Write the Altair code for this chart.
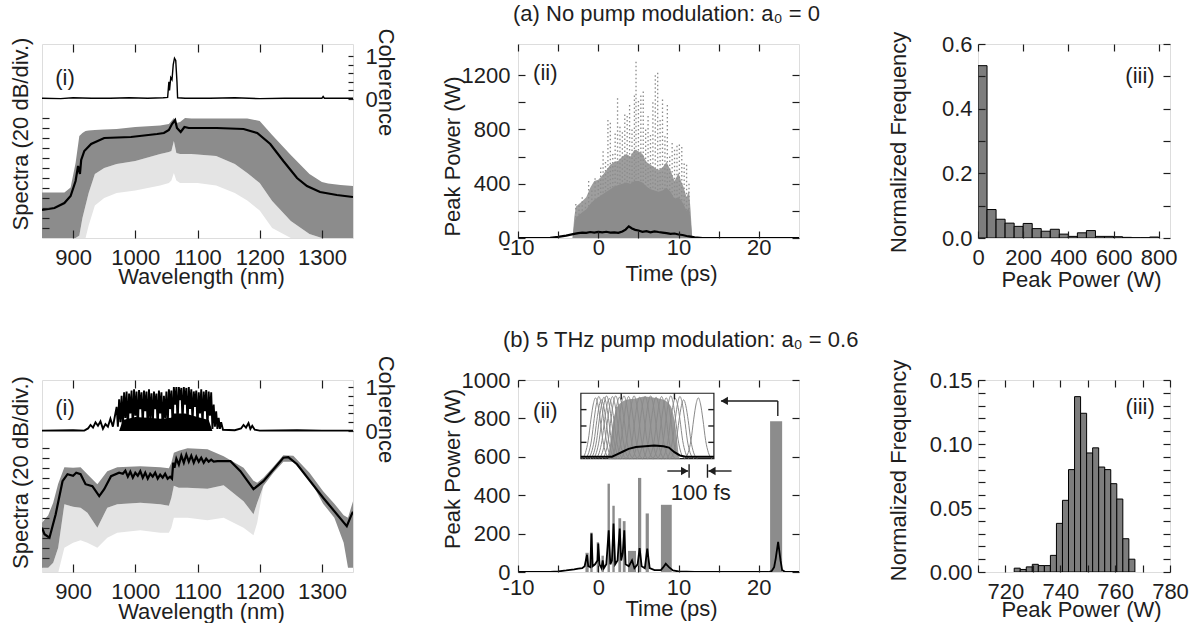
import altair as alt
import pandas as pd

FONT = "Liberation Sans"
FS = 22
INK = "#1e1e1e"
GRAY = "#8c8c8c"
LIGHT = "#e4e4e4"
HAZE = "#9e9e9e"

# ---------------- layout (px) ----------------
W1, W2, W3 = 311, 281, 192
GAP12, GAP23 = 165, 179
HA, HB = 194, 192
ROW_GAP = 142

# ---------------- (a)(i) spectra / coherence ----------------
WL_A_MEAN = [850, 870, 886, 896, 904, 908, 911, 913, 918, 929, 950, 993, 1035, 1046, 1054, 1059, 1064, 1067,
             1073, 1079, 1086, 1131, 1174, 1196, 1217, 1238, 1260, 1276, 1297, 1324, 1350]
DB_A_MEAN = [-184, -180, -170, -156, -126, -96, -112, -84, -66, -52, -40, -38, -32, -30, -24, -12, -4, -20,
             -28, -18, -20, -20, -22, -30, -52, -86, -120, -136, -148, -154, -158]
WL_A_BAND = [850, 886, 896, 904, 910, 915, 920, 925, 935, 950, 970, 1000, 1040, 1054, 1058, 1062, 1066, 1072,
             1080, 1090, 1100, 1130, 1160, 1180, 1200, 1220, 1250, 1280, 1300, 1310, 1330, 1350]
DB_A_HI = [-149, -149, -139, -90, -36, -30, -26, -25, -24, -23, -22, -18, -15, -12, -6, 0, -10, -8,
           0, -1, -1, -1, -1, -1, -6, -34, -74, -112, -128, -131, -134, -136]
DB_A_LO = [-240, -240, -240, -240, -235, -200, -175, -150, -112, -100, -92, -86, -72, -68, -66, -46, -70, -72,
           -72, -72, -73, -76, -92, -110, -130, -166, -206, -232, -240, -240, -240, -240]
DB_A_SPECK = [-240, -240, -240, -240, -240, -240, -240, -215, -175, -160, -150, -145, -135, -130, -125, -110, -125, -130,
              -130, -130, -130, -135, -150, -165, -185, -220, -240, -240, -240, -240, -240, -240]
WL_COH_A = [850, 880, 900, 930, 960, 990, 1020, 1045, 1052, 1054, 1055, 1057, 1059, 1061, 1063, 1065, 1067, 1068,
            1080, 1120, 1160, 1200, 1240, 1280, 1300, 1302, 1304, 1320, 1350]
COH_A = [0.02, 0.01, 0.03, 0.02, 0.02, 0.03, 0.02, 0.03, 0.04, 0.4, 0.2, 0.5, 0.45, 0.8, 0.95, 0.9, 0.4, 0.03,
         0.02, 0.02, 0.03, 0.01, 0.02, 0.02, 0.02, 0.06, 0.02, 0.02, 0.02]

# ---------------- (b)(i) spectra / coherence ----------------
WL_B_MEAN = [850, 854, 862, 872, 883, 891, 900, 905, 912, 920, 931, 942, 950, 961, 974,
             980, 984, 988, 992, 996, 1000, 1004, 1008, 1012, 1016, 1020, 1024, 1028, 1032, 1036, 1040, 1044,
             1048, 1052, 1056, 1059, 1061, 1063, 1066, 1070, 1074, 1078, 1082, 1086, 1090, 1094, 1098, 1102,
             1106, 1110, 1114, 1118, 1122, 1126, 1132, 1153, 1169, 1190, 1206, 1238, 1246, 1260, 1302, 1340,
             1348, 1350]
DB_B_MEAN = [-160, -173, -180, -133, -67, -53, -56, -50, -53, -73, -77, -97, -83, -57, -50,
             -52, -46, -58, -48, -60, -50, -56, -47, -60, -50, -62, -52, -58, -50, -62, -54, -60,
             -52, -62, -58, -62, -30, -40, -22, -34, -16, -30, -14, -28, -16, -30, -18, -28,
             -20, -30, -22, -28, -24, -28, -27, -27, -47, -83, -67, -20, -19, -33, -100, -157,
             -133, -128]
WL_B_BAND = [850, 860, 868, 876, 886, 900, 912, 923, 939, 955, 971, 1008, 1040, 1054, 1058, 1062, 1070,
             1084, 1116, 1142, 1174, 1190, 1196, 1206, 1222, 1238, 1254, 1280, 1302, 1320, 1335, 1342, 1350]
DB_B_HI = [-150, -135, -110, -72, -39, -40, -39, -53, -73, -47, -39, -37, -39, -41, -30, -10, -6,
           -1, -3, -17, -40, -66, -70, -60, -38, -15, -16, -50, -87, -112, -135, -140, -107]
DB_B_LO = [-240, -240, -230, -200, -113, -118, -120, -130, -160, -120, -113, -110, -113, -116, -100, -76, -80,
           -80, -82, -75, -107, -133, -110, -76, -50, -28, -28, -62, -112, -140, -190, -240, -240]
DB_B_SPECK = [-250, -250, -250, -250, -200, -190, -185, -190, -200, -180, -170, -165, -170, -170, -160, -140, -140,
              -140, -145, -140, -160, -175, -150, -76, -50, -28, -28, -62, -112, -140, -190, -240, -240]
WL_COH_B = [850, 900, 918, 924, 928, 932, 936, 940, 944, 948, 952, 956, 960, 964, 968,
            970, 972, 974, 976, 978, 980, 982, 984, 986, 988, 990, 992, 994, 996, 998, 1000,
            1002, 1004, 1006, 1008, 1010, 1012, 1014, 1016, 1018, 1020, 1022, 1024, 1026, 1028, 1030, 1032,
            1034, 1036, 1038, 1040, 1042, 1044, 1046, 1048, 1050, 1052, 1054, 1056, 1058, 1060, 1062, 1064,
            1066, 1068, 1070, 1072, 1074, 1076, 1078, 1080, 1082, 1084, 1086, 1088, 1090, 1092, 1094, 1096,
            1098, 1100, 1102, 1104, 1106, 1108, 1110, 1112, 1114, 1116, 1118, 1120, 1122, 1124, 1126, 1128,
            1130, 1132, 1134, 1136, 1138, 1141, 1160, 1170, 1174, 1178, 1182, 1185, 1188, 1192, 1200, 1260,
            1300, 1350]
COH_B = [0.01, 0.02, 0.01, 0.06, 0.14, 0.08, 0.2, 0.12, 0.22, 0.05, 0.16, 0.1, 0.28, 0.1, 0.4,
         0.55, 0.10, 0.72, 0.20, 0.80, 0.05, 0.88, 0.30, 0.90, 0.00, 0.85, 0.40, 0.92, 0.05, 0.95, 0.35,
         0.90, 0.00, 0.93, 0.50, 0.88, 0.10, 0.92, 0.45, 0.90, 0.02, 0.95, 0.30, 0.86, 0.10, 0.90, 0.50,
         0.85, 0.05, 0.92, 0.40, 0.88, 0.02, 0.80, 0.30, 0.90, 0.10, 0.95, 0.50, 0.92, 0.10, 1.00, 0.60,
         1.00, 0.15, 1.00, 0.70, 0.98, 0.20, 1.00, 0.60, 0.98, 0.10, 1.00, 0.50, 0.95, 0.20, 0.90, 0.55,
         0.92, 0.05, 0.88, 0.40, 0.95, 0.10, 0.90, 0.45, 0.93, 0.02, 0.90, 0.35, 0.88, 0.05, 0.60, 0.10,
         0.45, 0.05, 0.30, 0.05, 0.20, 0.03, 0.02, 0.06, 0.14, 0.08, 0.18, 0.05, 0.12, 0.03, 0.01, 0.02,
         0.01, 0.01]
# solid black body of the oscillating coherence (lower part of the black mass)
WL_COH_B_FILL = [974, 980, 1000, 1020, 1040, 1058, 1062, 1080, 1100, 1118, 1124]
COH_B_FILL = [0.0, 0.25, 0.32, 0.3, 0.28, 0.3, 0.4, 0.4, 0.32, 0.25, 0.0]
SPEC_TICKS = [-220, -200, -180, -160, -140, -120, -100, -80, -60, -40, -20, 0]

# ---------------- (a)(ii) temporal peak power ----------------
T_A_DENSE = [-10, -3.2, -3.0, -2.8, -2.4, -2.0, -1.5, -1.0, -0.5, 0, 0.5, 1, 1.5, 2, 2.5, 3, 3.5, 4, 4.5, 5,
             5.5, 6, 6.5, 7, 7.5, 8, 8.5, 9, 9.5, 10, 10.3, 10.6, 11, 11.3, 11.5, 11.7, 25]
P_A_HAZE = [0, 0, 150, 230, 250, 270, 300, 370, 420, 430, 460, 500, 540, 560, 570, 600, 620, 600, 650, 640,
            620, 560, 540, 520, 500, 520, 560, 500, 420, 480, 420, 380, 300, 350, 200, 0, 0]
P_A_CORE = [0, 0, 100, 150, 170, 190, 210, 250, 280, 300, 320, 340, 360, 380, 390, 400, 410, 400, 420, 420,
            410, 380, 360, 350, 340, 350, 370, 340, 290, 300, 280, 250, 200, 220, 130, 0, 0]
T_A_STREAK = [-2.8, -2.4, -2.0, -1.6, -1.2, -0.8, -0.4, 0.0, 0.3, 0.6, 0.9, 1.2, 1.5, 1.8, 2.1, 2.4, 2.7, 3.0,
              3.3, 3.6, 3.9, 4.2, 4.5, 4.7, 5.0, 5.3, 5.6, 5.9, 6.2, 6.5, 6.8, 7.1, 7.4, 7.7, 8.0, 8.3, 8.6,
              8.9, 9.2, 9.5, 9.8, 10.1, 10.4, 10.7, 11.0, 11.3]
P_A_STREAK = [250, 240, 300, 260, 420, 350, 440, 420, 520, 640, 560, 870, 850, 620, 770, 1030, 820, 780,
              910, 900, 980, 800, 1050, 1300, 1010, 1050, 1080, 800, 900, 760, 1000, 1200, 1218, 870, 1020, 750, 980,
              600, 700, 650, 680, 690, 670, 550, 540, 400]
T_A_MEAN = [-10, -7, -6, -5, -4, -3, -2.5, -2, -1.5, -1, -0.5, 0, 0.5, 1, 1.5, 2, 2.5, 3, 3.4, 3.8,
            4.2, 4.6, 5, 5.5, 6, 6.5, 7, 7.5, 8, 8.5, 9, 9.5, 10, 10.5, 11, 11.5, 12, 13, 25]
P_A_MEAN = [0, 0, 2, 8, 18, 30, 36, 40, 38, 44, 40, 45, 41, 46, 40, 42, 38, 48, 62, 86,
            70, 60, 55, 45, 50, 42, 49, 44, 40, 36, 30, 33, 26, 22, 15, 10, 5, 0, 0]

# ---------------- (b)(ii) temporal peak power ----------------
GB_T0 = [-1.6, -1.0, -0.2, 0.4, 1.15, 1.75, 2.5, 3.05, 3.7, 4.95, 5.9, 7.8, 21.4]
GB_T1 = [-1.2, -0.7, 0.1, 0.7, 1.45, 2.05, 2.85, 3.4, 4.7, 5.35, 6.3, 9.15, 22.9]
GB_TOP = [100, 205, 155, 85, 460, 345, 280, 265, 110, 490, 305, 350, 785]
T_B_MEAN = [-10, -6, -5, -4, -3, -2.5, -2, -1.7, -1.55, -1.4, -1.25, -1.0, -0.85, -0.7, -0.4, -0.1, 0.0, 0.15,
            0.4, 0.55, 0.7, 1.0, 1.3, 1.5, 1.7, 1.9, 2.1, 2.4, 2.67, 2.85, 3.05, 3.24, 3.4, 3.8, 4.2, 4.5, 4.9,
            5.15, 5.4, 5.8, 6.1, 6.4, 7.0, 7.8, 8.1, 8.4, 8.8, 9.3, 10, 12, 20, 21.2, 21.6, 21.9, 22.1, 22.4,
            22.7, 22.9, 23.3, 25]
P_B_MEAN = [0, 0, 3, 8, 14, 18, 20, 30, 60, 90, 30, 25, 200, 30, 40, 60, 148, 40,
            20, 61, 20, 40, 217, 40, 60, 252, 40, 60, 226, 60, 100, 217, 40, 30, 61, 20, 40,
            125, 30, 20, 122, 20, 10, 10, 25, 43, 25, 8, 3, 1, 0, 0, 5, 25, 70, 157,
            60, 10, 0, 0]

# inset (fs / normalised height) and its placement in (b)(ii) data units
INSET_T = [-2.17, 14.4]
INSET_P = [590, 931]
INSET_FS_SPAN = 725
PULSE_DT_FS = [-75, -55, -40, -25, -12, 0, 12, 25, 40, 55, 75]
PULSE_REL = [0.0, 0.1, 0.3, 0.65, 0.9, 1.0, 0.9, 0.65, 0.3, 0.1, 0.0]
INSET_CENTERS_FS = [80, 98, 112, 126, 140, 155, 172, 190, 210, 235, 260, 290, 320, 350, 380, 410, 440, 465,
                    490, 515, 540, 560, 640]
INSET_PEAKS = [0.93, 0.95, 0.9, 0.94, 0.96, 0.92, 0.95, 0.96, 0.94, 0.96, 0.95, 0.96, 0.94, 0.95, 0.96, 0.94,
               0.95, 0.93, 0.96, 0.92, 0.95, 0.9, 0.93]
FS_DENSE = [150, 175, 200, 250, 300, 350, 400, 450, 490, 515, 535]
H_DENSE = [0, 0.55, 0.8, 0.9, 0.92, 0.95, 0.93, 0.9, 0.8, 0.5, 0]
FS_INSET_MEAN = [0, 170, 200, 230, 260, 300, 350, 400, 450, 480, 510, 540, 570, 610, 725]
H_INSET_MEAN = [0.03, 0.03, 0.07, 0.11, 0.15, 0.18, 0.19, 0.2, 0.19, 0.17, 0.1, 0.05, 0.03, 0.03, 0.03]
INSET_TICK_H = [0.25, 0.5, 0.75]
INSET_TOP_TICK_FS = [220, 510]

# ---------------- (iii) histograms ----------------
BIN_A_LO = [0, 40, 80, 120, 160, 200, 240, 280, 320, 360, 400, 440, 480, 520, 560, 600, 640, 680, 720, 760]
BIN_A_W = 40
FREQ_A = [0.533, 0.088, 0.058, 0.046, 0.036, 0.045, 0.029, 0.021, 0.027, 0.012, 0.005, 0.016, 0.023,
          0.005, 0.005, 0.004, 0.002, 0.001, 0.001, 0.003]
BIN_B_LO = [723.2, 725.4, 727.6, 729.8, 732.0, 734.2, 736.4, 738.6, 740.8, 743.0, 745.2, 747.4, 749.6,
            751.8, 754.0, 756.2, 758.4, 760.6, 762.8, 765.0]
BIN_B_W = 2.2
FREQ_B = [0.003, 0.002, 0.004, 0.006, 0.005, 0.005, 0.013, 0.038, 0.056, 0.080, 0.137, 0.124, 0.093,
          0.097, 0.082, 0.080, 0.069, 0.057, 0.026, 0.010]


# ---------------- helpers ----------------
def ax(orient, values, tick, **kw):
    d = dict(orient=orient, values=values, tickSize=tick, offset=-tick, domain=False, grid=False,
             ticks=True, tickColor=INK, tickWidth=1.2, labels=False,
             labelFont=FONT, labelFontSize=FS, labelColor=INK, labelFlush=False, labelOverlap=False,
             titleFont=FONT, titleFontSize=FS, titleColor=INK, titleFontWeight="normal", zindex=1)
    d.update(kw)
    if "title" not in d:
        d["title"] = None
    return alt.Axis(**d)


def sc(dom):
    return alt.Scale(domain=dom, nice=False, zero=False)


def text_layer(x, y, xs, ys, txt):
    df = pd.DataFrame({"x": [x], "y": [y], "t": [txt]})
    return alt.Chart(df).mark_text(font=FONT, fontSize=FS, color=INK).encode(
        x=alt.X("x:Q", scale=xs, axis=None), y=alt.Y("y:Q", scale=ys, axis=None), text="t:N")


def spectra_panel(H, ydom, cdom, band, mean, coh, lab_c, ty_spec, ty_coh, ty_x, coh_w, coh_fill=None):
    xs, ys, cs = sc([850, 1350]), sc(ydom), sc(cdom)
    wl_ticks = [900, 1000, 1100, 1200, 1300]
    xb = ax("bottom", wl_ticks, 8, labels=True, labelBaseline="alphabetic", labelPadding=26, format="d",
            title="Wavelength (nm)", titleX=159, titleY=ty_x, titleBaseline="alphabetic", titleAlign="center")
    xt = ax("top", wl_ticks, 8)
    yl = ax("left", SPEC_TICKS, 7, title="Spectra (20 dB/div.)", titleAngle=-90, titleX=-22, titleY=ty_spec,
            titleBaseline="alphabetic", titleAlign="center")
    yr = ax("right", [0, 0.2, 0.4, 0.6, 0.8, 1], 5, labels=True, labelPadding=12,
            labelExpr="datum.value == 0 || datum.value == 1 ? datum.label : ''",
            title="Coherence", titleAngle=90, titleX=30, titleY=ty_coh, titleBaseline="alphabetic",
            titleAlign="center")
    speck = alt.Chart(band).mark_area(color=LIGHT, clip=True).encode(
        x=alt.X("wl:Q", scale=xs, axis=xb), y=alt.Y("lo:Q", scale=ys, axis=yl), y2="sp:Q")
    gray = alt.Chart(band).mark_area(color=GRAY, clip=True).encode(
        x=alt.X("wl:Q", scale=xs, axis=None), y=alt.Y("hi:Q", scale=ys, axis=None), y2="lo:Q")
    line = alt.Chart(mean).mark_line(color="black", strokeWidth=2.2, clip=True).encode(
        x=alt.X("wl:Q", scale=xs, axis=None), y=alt.Y("db:Q", scale=ys, axis=None))
    cl = alt.Chart(coh).mark_line(color="black", strokeWidth=coh_w, clip=True).encode(
        x=alt.X("wl:Q", scale=xs, axis=xt), y=alt.Y("c:Q", scale=cs, axis=yr))
    lab = text_layer(887, lab_c, xs, cs, "(i)")
    layers = [speck, gray, line, cl, lab]
    if coh_fill is not None:
        layers.append(alt.Chart(coh_fill).mark_area(color="black", clip=True).encode(
            x=alt.X("wl:Q", scale=xs, axis=None), y=alt.Y("c:Q", scale=cs, axis=None), y2=alt.datum(0)))
    return alt.layer(*layers).resolve_scale(y="independent").resolve_axis(
        x="independent", y="independent").properties(width=W1, height=H)


def time_axes(yvals, ymod, ty_y, ty_x, lab_pad):
    tvals = [-10, -5, 0, 5, 10, 15, 20]
    xb = ax("bottom", tvals, 7, labels=True, labelBaseline="alphabetic", labelPadding=lab_pad,
            labelExpr="datum.value % 10 == 0 ? '' + datum.value : ''",
            title="Time (ps)", titleX=153, titleY=ty_x, titleBaseline="alphabetic", titleAlign="center")
    xt = ax("top", tvals, 7)
    yl = ax("left", yvals, 7, labels=True, labelPadding=8,
            labelExpr="datum.value % " + str(ymod) + " == 0 ? '' + datum.value : ''",
            title="Peak Power (W)", titleAngle=-90, titleX=-66, titleY=ty_y, titleBaseline="alphabetic",
            titleAlign="center")
    yr = ax("right", yvals, 7)
    return xb, xt, yl, yr


def title_layer(txt, dx, dy):
    return alt.Chart(pd.DataFrame({"k": [0]})).mark_text(
        font=FONT, fontSize=FS, color=INK, align="left", baseline="alphabetic").encode(
        x=alt.value(dx), y=alt.value(dy), text=alt.value(txt))


def panel_ii_a():
    xs, ys = sc([-10, 25]), sc([0, 1430])
    xb, xt, yl, yr = time_axes([0, 200, 400, 600, 800, 1000, 1200], 400, 112, 49, 16)
    dense_df = pd.DataFrame({"t": T_A_DENSE, "haze": P_A_HAZE, "core": P_A_CORE})
    haze = alt.Chart(dense_df).mark_area(color=HAZE, clip=True).encode(
        x=alt.X("t:Q", scale=xs, axis=xb), y=alt.Y("haze:Q", scale=ys, axis=yl))
    streak = alt.Chart(pd.DataFrame({"t": T_A_STREAK, "p": P_A_STREAK})).mark_rule(
        color=GRAY, strokeWidth=1.3, strokeDash=[1.5, 2.5], clip=True).encode(
        x=alt.X("t:Q", scale=xs, axis=None), y=alt.Y("p:Q", scale=ys, axis=None), y2=alt.datum(0))
    core = alt.Chart(dense_df).mark_area(color=GRAY, clip=True).encode(
        x=alt.X("t:Q", scale=xs, axis=None), y=alt.Y("core:Q", scale=ys, axis=None))
    mean = alt.Chart(pd.DataFrame({"t": T_A_MEAN, "p": P_A_MEAN})).mark_line(
        color="black", strokeWidth=2.2, clip=True).encode(
        x=alt.X("t:Q", scale=xs, axis=xt), y=alt.Y("p:Q", scale=ys, axis=yr))
    lab = text_layer(-6.6, 1215, xs, ys, "(ii)")
    ttl = title_layer("(a) No pump modulation: a\u2080 = 0", -5, -23)
    return alt.layer(haze, streak, core, mean, lab, ttl).resolve_axis(x="independent", y="independent").properties(
        width=W2, height=HA)


def to_t(fs):
    return INSET_T[0] + fs / INSET_FS_SPAN * (INSET_T[1] - INSET_T[0])


def to_p(h):
    return INSET_P[0] + h * (INSET_P[1] - INSET_P[0])


def panel_ii_b():
    xs, ys = sc([-10, 25]), sc([0, 1000])
    xb, xt, yl, yr = time_axes([0, 200, 400, 600, 800, 1000], 200, 88.5, 50, 22)
    gray = alt.Chart(pd.DataFrame({"t0": GB_T0, "t1": GB_T1, "p": GB_TOP})).mark_rect(color=GRAY, clip=True).encode(
        x=alt.X("t0:Q", scale=xs, axis=xb), x2="t1:Q", y=alt.Y("p:Q", scale=ys, axis=yl), y2=alt.datum(0))
    mean = alt.Chart(pd.DataFrame({"t": T_B_MEAN, "p": P_B_MEAN})).mark_line(
        color="black", strokeWidth=1.8, clip=True).encode(
        x=alt.X("t:Q", scale=xs, axis=xt), y=alt.Y("p:Q", scale=ys, axis=yr))
    # inset
    box = alt.Chart(pd.DataFrame({"t0": [INSET_T[0]], "t1": [INSET_T[1]], "p0": [INSET_P[0]], "p1": [INSET_P[1]]})
                    ).mark_rect(fill="white", stroke=INK, strokeWidth=1.2).encode(
        x=alt.X("t0:Q", scale=xs, axis=None), x2="t1:Q", y=alt.Y("p0:Q", scale=ys, axis=None), y2="p1:Q")
    dense = alt.Chart(pd.DataFrame({"t": [to_t(f) for f in FS_DENSE], "p": [to_p(h) for h in H_DENSE],
                                    "b": [INSET_P[0]] * len(FS_DENSE)})).mark_area(
        color="#9a9a9a", interpolate="monotone").encode(
        x=alt.X("t:Q", scale=xs, axis=None), y=alt.Y("p:Q", scale=ys, axis=None), y2="b:Q")
    rows = []
    for i, (c, a) in enumerate(zip(INSET_CENTERS_FS, INSET_PEAKS)):
        for dt, r in zip(PULSE_DT_FS, PULSE_REL):
            rows.append({"id": i, "t": to_t(c + dt), "p": to_p(a * r)})
    curves = alt.Chart(pd.DataFrame(rows)).mark_line(color="#8a8a8a", strokeWidth=1, interpolate="monotone").encode(
        x=alt.X("t:Q", scale=xs, axis=None), y=alt.Y("p:Q", scale=ys, axis=None), detail="id:N")
    imean = alt.Chart(pd.DataFrame({"t": [to_t(f) for f in FS_INSET_MEAN], "p": [to_p(h) for h in H_INSET_MEAN]})
                      ).mark_line(color="black", strokeWidth=2).encode(
        x=alt.X("t:Q", scale=xs, axis=None), y=alt.Y("p:Q", scale=ys, axis=None))
    tk = []
    for h in INSET_TICK_H:
        tk.append({"t": INSET_T[0], "t2": INSET_T[0] + 0.7, "p": to_p(h), "p2": to_p(h)})
        tk.append({"t": INSET_T[1] - 0.7, "t2": INSET_T[1], "p": to_p(h), "p2": to_p(h)})
    for f in INSET_TOP_TICK_FS:
        tk.append({"t": to_t(f), "t2": to_t(f), "p": INSET_P[1], "p2": INSET_P[1] - 32})
    # arrows (annotation)
    tk += [{"t": 15.3, "t2": 22.36, "p": 891, "p2": 891},
           {"t": 22.36, "t2": 22.36, "p": 891, "p2": 812},
           {"t": 8.6, "t2": 11.2, "p": 526, "p2": 526},
           {"t": 11.31, "t2": 11.31, "p": 491, "p2": 561},
           {"t": 13.6, "t2": 13.6, "p": 491, "p2": 561},
           {"t": 13.7, "t2": 16.6, "p": 526, "p2": 526}]
    rules = alt.Chart(pd.DataFrame(tk)).mark_rule(color=INK, strokeWidth=1.4).encode(
        x=alt.X("t:Q", scale=xs, axis=None), x2="t2:Q", y=alt.Y("p:Q", scale=ys, axis=None), y2="p2:Q")
    headL = alt.Chart(pd.DataFrame({"t": [15.7, 14.16], "p": [891, 526]})).mark_point(
        shape="triangle-left", filled=True, size=70, color=INK, opacity=1).encode(
        x=alt.X("t:Q", scale=xs, axis=None), y=alt.Y("p:Q", scale=ys, axis=None))
    headR = alt.Chart(pd.DataFrame({"t": [10.75], "p": [526]})).mark_point(
        shape="triangle-right", filled=True, size=70, color=INK, opacity=1).encode(
        x=alt.X("t:Q", scale=xs, axis=None), y=alt.Y("p:Q", scale=ys, axis=None))
    fs_lab = text_layer(12.76, 413, xs, ys, "100 fs")
    lab = text_layer(-6.6, 838, xs, ys, "(ii)")
    ttl = title_layer("(b) 5 THz pump modulation: a\u2080 = 0.6", -15, -33)
    return alt.layer(gray, mean, box, dense, curves, imean, rules, headL, headR, fs_lab, lab, ttl).resolve_axis(
        x="independent", y="independent").properties(width=W2, height=HB)


def hist_panel(H, lo, w, freq, xdom, xvals, xexpr, yvals, yexpr, ty_y, ty_x, lab_xy):
    xs, ys = sc(xdom), sc([yvals[0], yvals[-1]])
    xb = ax("bottom", xvals, 7, labels=True, labelBaseline="alphabetic", labelPadding=26, labelExpr=xexpr,
            title="Peak Power (W)", titleX=103, titleY=ty_x, titleBaseline="alphabetic", titleAlign="center")
    xt = ax("top", xvals, 7)
    yl = ax("left", yvals, 7, labels=True, labelPadding=6, labelExpr=yexpr,
            title="Normalized Frequency", titleAngle=-90, titleX=-80, titleY=ty_y, titleBaseline="alphabetic",
            titleAlign="center")
    yr = ax("right", yvals, 7)
    df = pd.DataFrame({"x0": lo, "x1": [v + w for v in lo], "f": freq})
    bars = alt.Chart(df).mark_rect(fill="#7d7d7d", stroke="black", strokeWidth=1, clip=True).encode(
        x=alt.X("x0:Q", scale=xs, axis=xb), x2="x1:Q", y=alt.Y("f:Q", scale=ys, axis=yl), y2=alt.datum(0))
    lab = alt.Chart(pd.DataFrame({"x": [lab_xy[0]], "y": [lab_xy[1]], "t": ["(iii)"]})).mark_text(
        font=FONT, fontSize=FS, color=INK).encode(
        x=alt.X("x:Q", scale=xs, axis=xt), y=alt.Y("y:Q", scale=ys, axis=yr), text="t:N")
    return alt.layer(bars, lab).resolve_axis(x="independent", y="independent").properties(width=W3, height=H)


def spacer(w, h):
    return alt.Chart(pd.DataFrame({"v": [0]})).mark_point(opacity=0).encode(
        x=alt.X("v:Q", axis=None), y=alt.Y("v:Q", axis=None)).properties(
        width=w, height=h, view=alt.ViewBackground(strokeOpacity=0))


band_a = pd.DataFrame({"wl": WL_A_BAND, "hi": DB_A_HI, "lo": DB_A_LO, "sp": DB_A_SPECK})
mean_a = pd.DataFrame({"wl": WL_A_MEAN, "db": DB_A_MEAN})
coh_a = pd.DataFrame({"wl": WL_COH_A, "c": COH_A})
band_b = pd.DataFrame({"wl": WL_B_BAND, "hi": DB_B_HI, "lo": DB_B_LO, "sp": DB_B_SPECK})
mean_b = pd.DataFrame({"wl": WL_B_MEAN, "db": DB_B_MEAN})
coh_b = pd.DataFrame({"wl": WL_COH_B, "c": COH_B})
coh_b_fill = pd.DataFrame({"wl": WL_COH_B_FILL, "c": COH_B_FILL})

p_ia = spectra_panel(HA, [-240, 148], [-3.23, 1.28], band_a, mean_a, coh_a, 0.5, 89.5, 37.8, 53.5, 1.4)
p_ib = spectra_panel(HB, [-248.6, 135.4], [-3.2, 1.16], band_b, mean_b, coh_b, 0.53, 92, 29, 54.5, 1.9,
                     coh_b_fill)
p_iia = panel_ii_a()
p_iib = panel_ii_b()
p_iiia = hist_panel(HA, BIN_A_LO, BIN_A_W, FREQ_A, [0, 850], [0, 200, 400, 600, 800], "datum.label",
                    [0, 0.1, 0.2, 0.3, 0.4, 0.5, 0.6],
                    "round(datum.value * 10) % 2 == 0 ? format(datum.value, '.1f') : ''", 97.8, 55.8, (717, 0.5))
p_iiib = hist_panel(HB, BIN_B_LO, BIN_B_W, FREQ_B, [710, 780], [710, 720, 730, 740, 750, 760, 770, 780],
                    "datum.value % 20 == 0 ? datum.label : ''",
                    [0, 0.01, 0.02, 0.03, 0.04, 0.05, 0.06, 0.07, 0.08, 0.09, 0.10, 0.11, 0.12, 0.13, 0.14, 0.15],
                    "round(datum.value * 100) % 5 == 0 ? format(datum.value, '.2f') : ''", 90, 51.8, (769.1, 0.129))

chart = alt.concat(
    p_ia, spacer(GAP12, 10), p_iia, spacer(GAP23, 10), p_iiia,
    p_ib, spacer(GAP12, 10), p_iib, spacer(GAP23, 10), p_iiib,
    columns=5, spacing=alt.RowColnumber(row=ROW_GAP, column=0), bounds="flush",
).properties(
    padding={"left": 8, "top": 2, "right": 0, "bottom": 0}, background="white"
).configure_view(stroke=INK, strokeWidth=1.2).configure(font=FONT)

chart.save("out.html", embed_options={"renderer": "svg", "actions": False})
